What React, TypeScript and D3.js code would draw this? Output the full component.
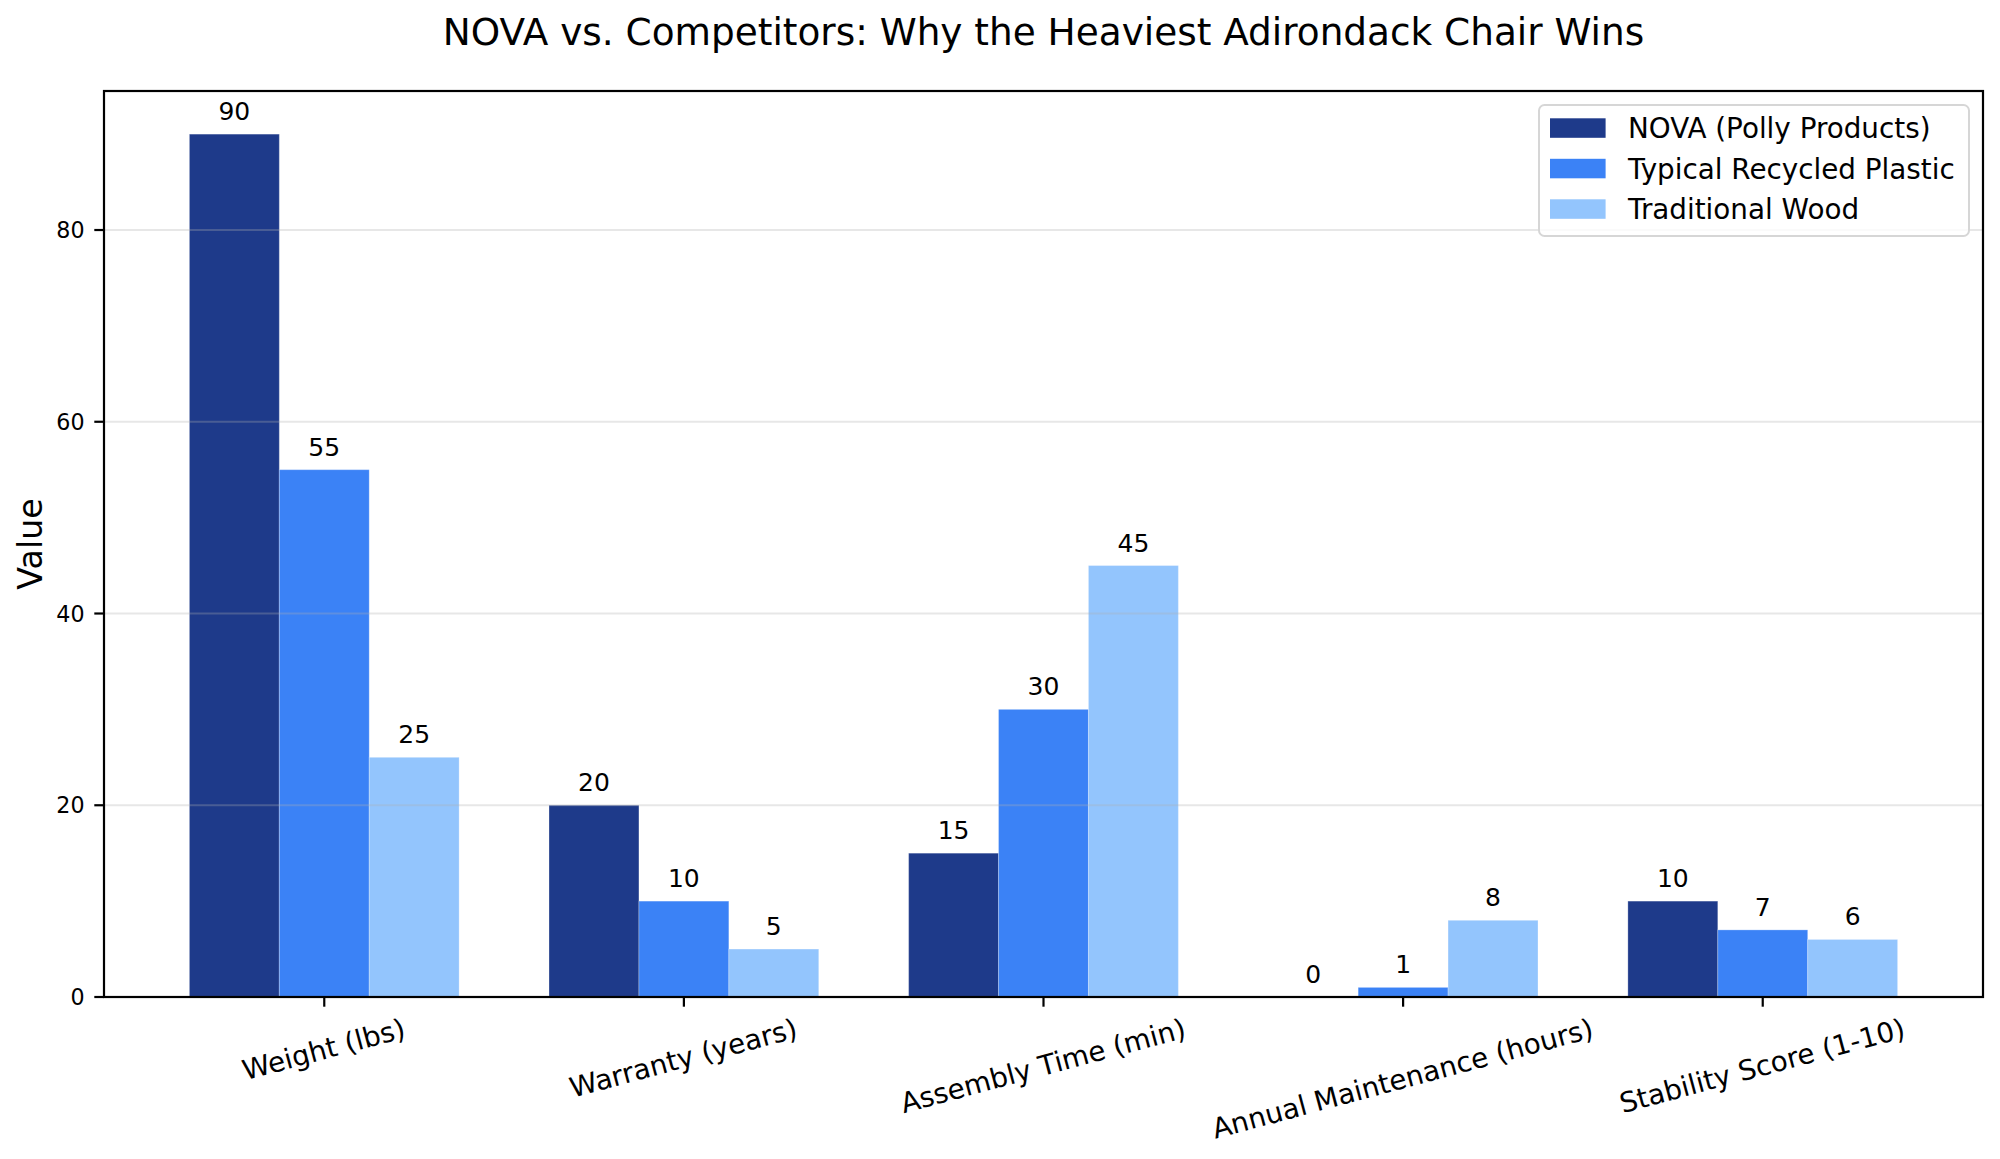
import { useEffect, useRef } from 'react';
import * as d3 from 'd3';

const categories = [
  'Weight (lbs)',
  'Warranty (years)',
  'Assembly Time (min)',
  'Annual Maintenance (hours)',
  'Stability Score (1-10)',
];
const seriesNames = ['NOVA (Polly Products)', 'Typical Recycled Plastic', 'Traditional Wood'];
const novaValues = [90, 20, 15, 0, 10];
const recycledValues = [55, 10, 30, 1, 7];
const woodValues = [25, 5, 45, 8, 6];
const seriesColors = ['#1e3a8a', '#3b82f6', '#93c5fd'];
const yTicks = [0, 20, 40, 60, 80];

const W = 2000;
const H = 1159;
const FONT = '"DejaVu Sans", sans-serif';

export default function App() {
  const ref = useRef<SVGSVGElement>(null);

  useEffect(() => {
    if (!ref.current) return;
    const svg = d3.select(ref.current);
    svg.selectAll('*').remove();

    const left = 104;
    const right = 1983;
    const top = 91;
    const bottom = 997;
    const barW = 0.25;
    const series = [novaValues, recycledValues, woodValues];

    const x = d3.scaleLinear().domain([-0.6125, categories.length - 1 + 0.6125]).range([left, right]);
    const yMax = d3.max(series.flat()) ?? 1;
    const y = d3.scaleLinear().domain([0, yMax * 1.05]).range([bottom, top]);

    svg.append('rect').attr('width', W).attr('height', H).attr('fill', '#fff');

    // bars
    const bars = svg.append('g');
    series.forEach((vals, j) => {
      vals.forEach((v, i) => {
        const cx = i + (j - 1) * barW;
        bars
          .append('rect')
          .attr('x', x(cx - barW / 2))
          .attr('y', y(v))
          .attr('width', x(cx + barW / 2) - x(cx - barW / 2))
          .attr('height', y(0) - y(v))
          .attr('fill', seriesColors[j])
          .attr('stroke', 'rgba(255,255,255,0.25)')
          .attr('stroke-width', 1);
      });
    });

    // grid over bars
    svg
      .append('g')
      .selectAll('line')
      .data(yTicks)
      .join('line')
      .attr('x1', left)
      .attr('x2', right)
      .attr('y1', (d) => y(d))
      .attr('y2', (d) => y(d))
      .attr('stroke', '#b0b0b0')
      .attr('stroke-opacity', 0.3)
      .attr('stroke-width', 2);

    // value labels
    series.forEach((vals, j) => {
      vals.forEach((v, i) => {
        svg
          .append('text')
          .attr('x', x(i + (j - 1) * barW))
          .attr('y', y(v) - 14)
          .attr('text-anchor', 'middle')
          .attr('font-family', FONT)
          .attr('font-size', 25)
          .attr('fill', '#000')
          .text(String(v));
      });
    });

    // spines
    svg
      .append('rect')
      .attr('x', left)
      .attr('y', top)
      .attr('width', right - left)
      .attr('height', bottom - top)
      .attr('fill', 'none')
      .attr('stroke', '#000')
      .attr('stroke-width', 2.2);

    // y axis ticks
    const yAxis = svg.append('g');
    yTicks.forEach((t) => {
      yAxis
        .append('line')
        .attr('x1', left - 9.7)
        .attr('x2', left)
        .attr('y1', y(t))
        .attr('y2', y(t))
        .attr('stroke', '#000')
        .attr('stroke-width', 2.2);
      yAxis
        .append('text')
        .attr('x', left - 19.4)
        .attr('y', y(t) + 8)
        .attr('text-anchor', 'end')
        .attr('font-family', FONT)
        .attr('font-size', 22.2)
        .text(String(t));
    });

    // x axis ticks + rotated labels
    const xAxis = svg.append('g');
    const fs = 27.8;
    const ang = (15 * Math.PI) / 180;
    categories.forEach((c, i) => {
      xAxis
        .append('line')
        .attr('x1', x(i))
        .attr('x2', x(i))
        .attr('y1', bottom)
        .attr('y2', bottom + 9.7)
        .attr('stroke', '#000')
        .attr('stroke-width', 2.2);
      const g = xAxis.append('g');
      const t = g
        .append('text')
        .attr('x', 0)
        .attr('y', fs * 0.28)
        .attr('text-anchor', 'middle')
        .attr('font-family', FONT)
        .attr('font-size', fs)
        .text(c);
      const w = (t.node() as SVGTextElement).getComputedTextLength();
      const hBox = w * Math.sin(ang) + fs * 0.98 * Math.cos(ang);
      g.attr('transform', `translate(${x(i)},${bottom + 19.4 + hBox / 2}) rotate(-15)`);
    });

    // axis label
    svg
      .append('text')
      .attr('transform', `translate(42,${(top + bottom) / 2}) rotate(-90)`)
      .attr('text-anchor', 'middle')
      .attr('font-family', FONT)
      .attr('font-size', 33.3)
      .text('Value');

    // title
    svg
      .append('text')
      .attr('x', (left + right) / 2)
      .attr('y', 45)
      .attr('text-anchor', 'middle')
      .attr('font-family', FONT)
      .attr('font-size', 37.4)
      .text('NOVA vs. Competitors: Why the Heaviest Adirondack Chair Wins');

    // legend
    const lg = svg.append('g');
    lg.append('rect')
      .attr('x', 1539)
      .attr('y', 105)
      .attr('width', right - 14 - 1539)
      .attr('height', 131)
      .attr('rx', 5.6)
      .attr('fill', 'rgba(255,255,255,0.8)')
      .attr('stroke', '#d6d6d6')
      .attr('stroke-width', 2);
    seriesNames.forEach((name, j) => {
      const cy = 128 + j * 40.5;
      lg.append('rect')
        .attr('x', 1550)
        .attr('y', cy - 9.7)
        .attr('width', 55.6)
        .attr('height', 19.5)
        .attr('fill', seriesColors[j]);
      lg.append('text')
        .attr('x', 1628)
        .attr('y', cy + 10)
        .attr('font-family', FONT)
        .attr('font-size', fs)
        .text(name);
    });
  }, []);

  return (
    <div style={{ position: 'absolute', left: 0, top: 0 }}>
      <svg ref={ref} width={W} height={H} />
    </div>
  );
}
